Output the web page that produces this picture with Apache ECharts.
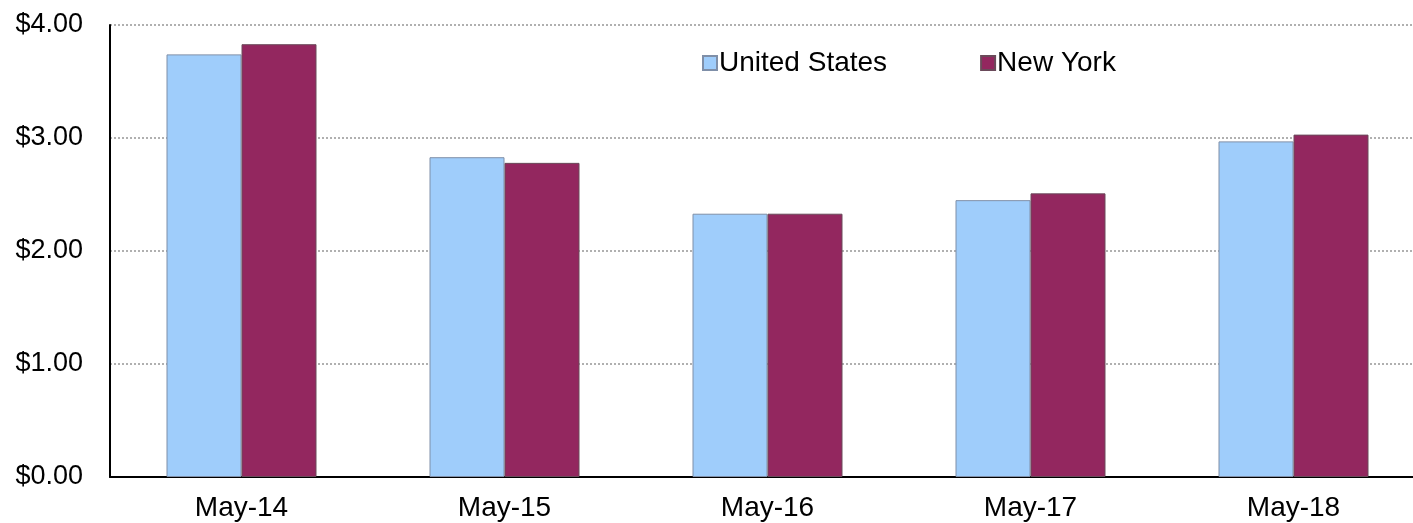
<!DOCTYPE html>
<html><head><meta charset="utf-8">
<script src="https://cdn.jsdelivr.net/npm/echarts@6/dist/echarts.min.js"></script>
<style>html,body{margin:0;padding:0;background:#fff}#c{width:1413px;height:523px}</style>
</head><body><div id="c"></div>
<script>
const categories = ['May-14','May-15','May-16','May-17','May-18'];
const unitedStates = [3.74, 2.83, 2.33, 2.45, 2.97];
const newYork = [3.83, 2.78, 2.33, 2.51, 3.03];
const seriesNames = ['United States','New York'];

const chart = echarts.init(document.getElementById('c'));
const font = '"Liberation Sans", Arial, sans-serif';
chart.setOption({
  animation: false,
  backgroundColor: '#fff',
  grid: { left: 110, top: 25, right: -12, bottom: 46, containLabel: false, outerBoundsMode: 'none' },
  legend: {
    left: 697, top: 44, itemWidth: 14, itemHeight: 14, itemGap: 93,
    icon: 'rect',
    textStyle: { fontFamily: font, fontSize: 28, color: '#000', padding: [0,0,0,-3] },
    data: seriesNames
  },
  xAxis: {
    type: 'category', data: categories,
    axisLine: { lineStyle: { color: '#000', width: 2 } },
    axisTick: { show: false },
    axisLabel: { fontFamily: font, fontSize: 28, color: '#000', margin: 17 }
  },
  yAxis: {
    type: 'value', min: 0, max: 4, interval: 1,
    axisLine: { show: true, lineStyle: { color: '#000', width: 2 } },
    axisTick: { show: false },
    axisLabel: { fontFamily: font, fontSize: 27, color: '#000', margin: 27,
      formatter: v => '$' + v.toFixed(2) },
    splitLine: { lineStyle: { color: '#b0b0b0', type: 'dotted', width: 2 } }
  },
  series: [
    { name: seriesNames[0], type: 'bar', data: unitedStates, barWidth: 75, barGap: '0%',
      itemStyle: { color: '#9fcdfb', borderColor: '#7f8fa8', borderWidth: 1 } },
    { name: seriesNames[1], type: 'bar', data: newYork, barWidth: 75,
      itemStyle: { color: '#93275f', borderColor: '#6a4a5a', borderWidth: 1 } }
  ]
});
</script></body></html>
